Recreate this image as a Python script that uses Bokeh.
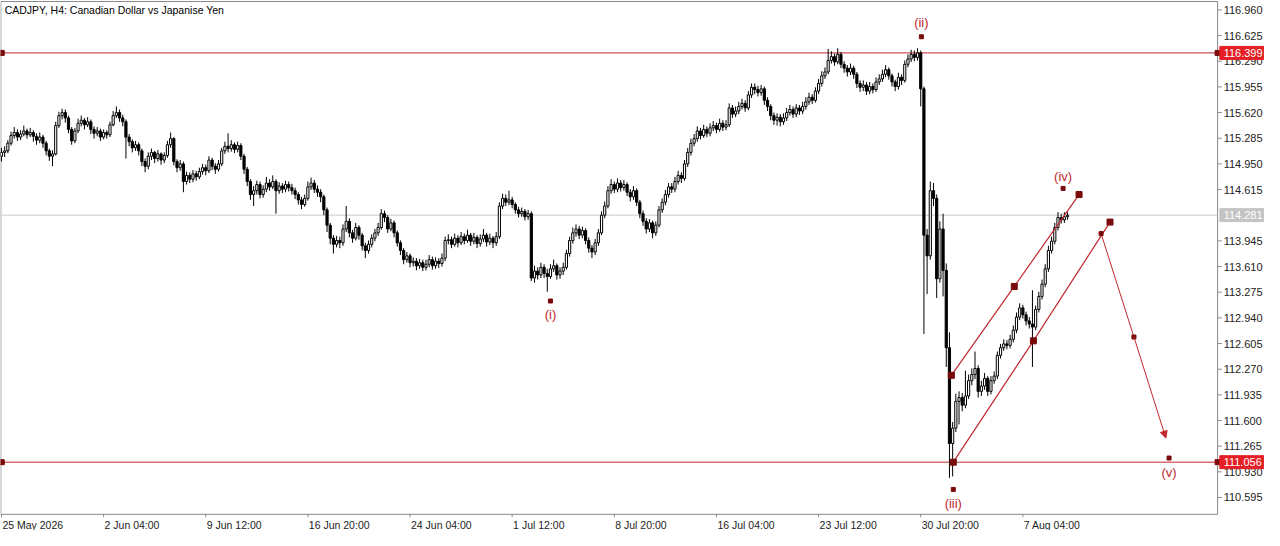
from bokeh.plotting import figure
from bokeh.models import Range1d, ColumnDataSource, Arrow, NormalHead
from bokeh.embed import file_html
from bokeh.resources import INLINE
from bokeh.core.properties import value

# ---------------- data ----------------
title_text = "CADJPY, H4:  Canadian Dollar vs Japanise Yen"
first_open = 115.05
closes = [
    115.10, 115.12, 115.22, 115.32, 115.36, 115.30, 115.34, 115.38, 115.33, 115.36,
    115.31, 115.26, 115.30, 115.22, 115.12, 115.05, 115.08, 115.45, 115.58, 115.62,
    115.55, 115.40, 115.25, 115.38, 115.48, 115.52, 115.46, 115.50, 115.40, 115.35,
    115.38, 115.30, 115.36, 115.33, 115.46, 115.58, 115.62, 115.55, 115.50, 115.30,
    115.24, 115.16, 115.20, 115.12, 114.98, 114.92, 115.05, 115.10, 115.02, 115.08,
    115.00, 115.06, 115.20, 115.28, 114.98, 114.90, 114.95, 114.72, 114.80, 114.75,
    114.82, 114.78, 114.85, 114.90, 114.86, 115.00, 114.92, 114.88, 114.95, 115.12,
    115.18, 115.15, 115.20, 115.14, 115.19, 115.05, 114.88, 114.72, 114.55, 114.60,
    114.68, 114.55, 114.62, 114.70, 114.65, 114.72, 114.60, 114.66, 114.62, 114.68,
    114.64, 114.60, 114.55, 114.48, 114.42, 114.50, 114.65, 114.70, 114.62, 114.58,
    114.52, 114.35, 114.15, 113.98, 113.90, 113.95, 113.92, 114.10, 114.20, 114.05,
    113.98, 114.12, 114.02, 113.88, 113.82, 113.90, 113.98, 114.05, 114.12, 114.30,
    114.25, 114.10, 114.18, 114.05, 113.92, 113.82, 113.70, 113.75, 113.66, 113.68,
    113.62, 113.66, 113.60, 113.64, 113.70, 113.62, 113.68, 113.65, 113.72, 113.95,
    113.96, 113.90, 113.98, 113.92, 114.00, 113.95, 114.02, 113.94, 113.99, 113.91,
    113.97, 114.02, 113.93, 113.98, 113.92, 114.00, 114.40, 114.50, 114.45, 114.48,
    114.42, 114.35, 114.30, 114.33, 114.26, 114.30, 113.46, 113.55, 113.50, 113.60,
    113.52, 113.48, 113.58, 113.62, 113.50, 113.55, 113.60, 113.78, 113.95, 114.05,
    114.10, 114.02, 114.08, 113.95, 113.85, 113.80, 113.92, 114.05, 114.28, 114.40,
    114.60, 114.68, 114.62, 114.70, 114.64, 114.68, 114.58, 114.52, 114.60, 114.45,
    114.30, 114.20, 114.10, 114.18, 114.05, 114.15, 114.35, 114.45, 114.55, 114.65,
    114.62, 114.72, 114.80, 114.76, 114.95, 115.10, 115.22, 115.28, 115.38, 115.32,
    115.40, 115.35, 115.42, 115.45, 115.40, 115.48, 115.43, 115.46, 115.68, 115.60,
    115.64, 115.70, 115.74, 115.68, 115.85, 115.95, 115.92, 115.88, 115.93, 115.78,
    115.70, 115.58, 115.52, 115.56, 115.50, 115.55, 115.62, 115.66, 115.60, 115.68,
    115.64, 115.70, 115.76, 115.82, 115.78, 115.90, 116.00, 116.10, 116.15, 116.30,
    116.35, 116.28, 116.38, 116.25, 116.20, 116.15, 116.20, 116.12, 116.00, 115.95,
    115.98, 115.90, 115.96, 115.92, 116.02, 116.06, 116.12, 116.18, 116.10, 116.02,
    115.96, 116.08, 116.04, 116.25, 116.32, 116.38, 116.34, 116.40, 115.93, 114.02,
    113.75, 114.60, 114.50, 113.45, 114.10, 113.56, 112.55, 111.30, 111.50, 111.85,
    111.90, 111.80, 111.92, 112.12, 112.20, 112.28, 111.98, 112.05, 112.15, 111.98,
    112.12, 112.18, 112.45, 112.55, 112.60, 112.58, 112.66, 112.78, 112.95, 113.07,
    112.98, 112.90, 112.86, 112.82, 113.05, 113.22, 113.38, 113.58, 113.82, 113.94,
    114.12, 114.25, 114.22, 114.26, 114.28,
]
highs = [
    115.16, 115.18, 115.26, 115.37, 115.43, 115.40, 115.39, 115.45, 115.41, 115.42,
    115.39, 115.35, 115.36, 115.33, 115.25, 115.15, 115.13, 115.50, 115.63, 115.67,
    115.66, 115.58, 115.43, 115.42, 115.54, 115.58, 115.55, 115.56, 115.53, 115.44,
    115.43, 115.41, 115.40, 115.39, 115.50, 115.64, 115.70, 115.66, 115.59, 115.53,
    115.34, 115.27, 115.25, 115.23, 115.15, 115.02, 115.10, 115.15, 115.12, 115.13,
    115.10, 115.10, 115.25, 115.36, 115.30, 115.01, 115.00, 114.98, 114.85, 114.84,
    114.87, 114.86, 114.90, 114.95, 114.94, 115.05, 115.03, 114.96, 115.00, 115.16,
    115.24, 115.35, 115.26, 115.23, 115.24, 115.22, 115.08, 114.91, 114.75, 114.66,
    114.73, 114.72, 114.67, 114.78, 114.75, 114.80, 114.75, 114.71, 114.70, 114.73,
    114.72, 114.69, 114.64, 114.58, 114.52, 114.55, 114.72, 114.77, 114.74, 114.67,
    114.62, 114.55, 114.38, 114.18, 114.02, 114.01, 114.00, 114.16, 114.40, 114.24,
    114.09, 114.18, 114.15, 114.05, 113.92, 113.95, 114.03, 114.10, 114.18, 114.36,
    114.34, 114.28, 114.23, 114.21, 114.08, 113.95, 113.85, 113.80, 113.78, 113.73,
    113.72, 113.71, 113.70, 113.70, 113.76, 113.74, 113.73, 113.72, 113.78, 114.00,
    114.03, 114.00, 114.04, 114.02, 114.06, 114.04, 114.09, 114.05, 114.05, 114.02,
    114.03, 114.10, 114.05, 114.04, 114.01, 114.06, 114.45, 114.56, 114.55, 114.60,
    114.52, 114.45, 114.39, 114.38, 114.36, 114.35, 114.33, 113.62, 113.60, 113.66,
    113.64, 113.58, 113.64, 113.70, 113.65, 113.60, 113.66, 113.83, 114.00, 114.12,
    114.16, 114.14, 114.13, 114.11, 113.99, 113.89, 113.97, 114.10, 114.33, 114.46,
    114.66, 114.75, 114.72, 114.76, 114.74, 114.74, 114.71, 114.62, 114.66, 114.63,
    114.48, 114.34, 114.24, 114.23, 114.21, 114.20, 114.40, 114.50, 114.61, 114.70,
    114.70, 114.78, 114.86, 114.84, 115.00, 115.16, 115.28, 115.34, 115.44, 115.42,
    115.46, 115.44, 115.48, 115.51, 115.49, 115.54, 115.52, 115.52, 115.74, 115.72,
    115.70, 115.76, 115.80, 115.78, 115.90, 116.00, 116.00, 115.97, 115.98, 115.96,
    115.82, 115.73, 115.62, 115.61, 115.60, 115.61, 115.68, 115.72, 115.70, 115.73,
    115.72, 115.76, 115.82, 115.88, 115.86, 115.95, 116.06, 116.16, 116.21, 116.45,
    116.42, 116.39, 116.46, 116.41, 116.29, 116.24, 116.26, 116.23, 116.15, 116.04,
    116.04, 116.02, 116.02, 116.00, 116.08, 116.12, 116.18, 116.24, 116.21, 116.13,
    116.05, 116.14, 116.12, 116.30, 116.38, 116.44, 116.43, 116.46, 116.43, 115.96,
    114.10, 114.72, 114.70, 114.55, 114.20, 114.30, 113.65, 112.75, 111.58, 111.95,
    111.98, 111.96, 112.25, 112.20, 112.28, 112.50, 112.32, 112.12, 112.22, 112.18,
    112.18, 112.24, 112.50, 112.60, 112.66, 112.65, 112.72, 112.84, 113.01, 113.13,
    113.11, 113.02, 112.95, 113.30, 113.10, 113.28, 113.44, 113.64, 113.88, 114.00,
    114.18, 114.32, 114.30, 114.32, 114.32,
]
lows = [
    114.98, 115.04, 115.09, 115.19, 115.28, 115.25, 115.26, 115.31, 115.28, 115.30,
    115.24, 115.20, 115.22, 115.16, 115.06, 114.99, 114.92, 115.06, 115.42, 115.53,
    115.49, 115.35, 115.20, 115.22, 115.35, 115.44, 115.40, 115.43, 115.34, 115.28,
    115.31, 115.25, 115.27, 115.28, 115.30, 115.44, 115.55, 115.50, 115.44, 115.02,
    115.18, 115.10, 115.12, 115.06, 114.92, 114.84, 114.88, 115.00, 114.96, 114.98,
    114.94, 114.96, 115.03, 115.16, 114.93, 114.84, 114.86, 114.58, 114.68, 114.70,
    114.71, 114.73, 114.75, 114.81, 114.80, 114.83, 114.87, 114.82, 114.85, 114.92,
    115.08, 115.10, 115.11, 115.09, 115.10, 115.00, 114.82, 114.66, 114.48, 114.40,
    114.55, 114.50, 114.51, 114.58, 114.60, 114.62, 114.30, 114.56, 114.57, 114.58,
    114.59, 114.55, 114.49, 114.42, 114.36, 114.39, 114.47, 114.61, 114.57, 114.52,
    114.45, 114.28, 114.06, 113.90, 113.78, 113.86, 113.85, 113.88, 114.06, 113.99,
    113.92, 113.95, 113.96, 113.82, 113.72, 113.78, 113.86, 113.94, 114.01, 114.09,
    114.19, 114.05, 114.07, 113.99, 113.87, 113.76, 113.64, 113.66, 113.60, 113.61,
    113.56, 113.58, 113.55, 113.56, 113.60, 113.57, 113.58, 113.59, 113.61, 113.68,
    113.90, 113.85, 113.87, 113.86, 113.89, 113.90, 113.92, 113.88, 113.90, 113.85,
    113.87, 113.93, 113.87, 113.89, 113.85, 113.88, 113.97, 114.36, 114.40, 114.41,
    114.37, 114.30, 114.25, 114.26, 114.21, 114.22, 113.42, 113.40, 113.44, 113.46,
    113.46, 113.28, 113.45, 113.54, 113.44, 113.45, 113.50, 113.57, 113.74, 113.91,
    114.00, 113.97, 113.98, 113.90, 113.79, 113.72, 113.76, 113.88, 114.02, 114.24,
    114.37, 114.56, 114.57, 114.58, 114.59, 114.60, 114.53, 114.46, 114.48, 114.40,
    114.24, 114.14, 114.04, 114.06, 113.98, 114.01, 114.12, 114.31, 114.41, 114.51,
    114.57, 114.58, 114.68, 114.70, 114.73, 114.91, 115.06, 115.18, 115.24, 115.27,
    115.29, 115.30, 115.31, 115.38, 115.35, 115.37, 115.38, 115.39, 115.43, 115.55,
    115.56, 115.60, 115.66, 115.63, 115.65, 115.81, 115.86, 115.83, 115.84, 115.72,
    115.64, 115.52, 115.46, 115.45, 115.44, 115.46, 115.51, 115.58, 115.55, 115.56,
    115.59, 115.60, 115.66, 115.72, 115.73, 115.75, 115.86, 115.96, 116.06, 116.12,
    116.26, 116.23, 116.25, 116.20, 116.14, 116.09, 116.11, 116.06, 115.94, 115.89,
    115.90, 115.85, 115.86, 115.87, 115.89, 115.98, 116.02, 116.08, 116.05, 115.96,
    115.90, 115.92, 115.98, 116.01, 116.21, 116.28, 116.29, 116.30, 115.70, 112.73,
    113.25, 113.70, 114.40, 113.20, 113.40, 113.22, 112.30, 110.85, 110.87, 111.45,
    111.55, 111.72, 111.76, 111.88, 112.06, 112.14, 111.90, 111.92, 112.00, 111.92,
    111.94, 112.08, 112.14, 112.41, 112.51, 112.53, 112.54, 112.62, 112.74, 112.91,
    112.93, 112.84, 112.80, 112.30, 112.78, 113.01, 113.18, 113.34, 113.54, 113.78,
    113.90, 114.08, 114.17, 114.18, 114.22,
]
date_ticks = [0, 32, 64, 96, 128, 160, 192, 224, 256, 288, 320]
date_labels = ["25 May 2026", "2 Jun 04:00", "9 Jun 12:00", "16 Jun 20:00", "24 Jun 04:00",
               "1 Jul 12:00", "8 Jul 20:00", "16 Jul 04:00", "23 Jul 12:00", "30 Jul 20:00",
               "7 Aug 04:00"]
price_ticks = [116.960, 116.625, 116.290, 115.955, 115.620, 115.285, 114.950, 114.615,
               113.945, 113.610, 113.275, 112.940, 112.605, 112.270, 111.935, 111.600,
               111.265, 110.930, 110.595]
resistance = 116.399
support = 111.056
bid = 114.281

# channel and wave annotations (bar index, price)
upper_x = [297.6, 317.3, 337.6]
upper_y = [112.19, 113.35, 114.55]
lower_x = [298.2, 323.3, 347.3]
lower_y = [111.056, 112.64, 114.19]
proj_x = [344.5, 354.8, 364.8]
proj_y = [114.04, 112.69, 111.37]
wave_names = ["(i)", "(ii)", "(iii)", "(iv)", "(v)"]
wave_x = [172.0, 288.2, 298.2, 332.6, 365.8]
wave_mark_y = [113.16, 116.61, 110.70, 114.63, 111.11]
wave_text_y = [112.98, 116.80, 110.52, 114.79, 110.92]

# ---------------- figure ----------------
RED = "#c0282d"
DARK = "#7a0a0a"
GRAY = "#8a8a8a"
FONT = "Liberation Sans"
X0, XAX = -0.2, 381.0          # left frame edge, price-axis line (bar units)
YB, YT = 110.375, 117.07       # bottom / top frame edges (price)
PX = 76.6                      # pixels per price unit
Y_TOP = YT + 1.0 / PX
Y_BOT = Y_TOP - 530.0 / PX

opens = [first_open] + closes[:-1]
idx = list(range(len(closes)))
tops = [max(o, c) for o, c in zip(opens, closes)]
bots = [min(o, c) for o, c in zip(opens, closes)]
fills = ["white" if c >= o else "black" for o, c in zip(opens, closes)]
src = ColumnDataSource(dict(x=idx, top=tops, bottom=bots, high=highs, low=lows, fill=fills))

p = figure(width=1264, height=530, output_backend="svg", toolbar_location=None,
           x_range=Range1d(-0.3, 395.7), y_range=Range1d(Y_BOT, Y_TOP),
           min_border_left=0, min_border_top=0, min_border_right=0, min_border_bottom=0)
p.xaxis.visible = False
p.yaxis.visible = False
p.grid.visible = False
p.outline_line_color = None
p.background_fill_color = "white"
p.border_fill_color = "white"

# chart frame
p.segment(x0=[X0, X0, X0, XAX], y0=[YB, YT, YB, YB], x1=[XAX, XAX, X0, XAX],
          y1=[YB, YT, YT, YT], line_color=GRAY, line_width=1)

# time axis (ticks below the frame, labels starting at the tick)
tick_len = 3.0 / PX
p.segment(x0=date_ticks, y0=[YB] * len(date_ticks), x1=date_ticks,
          y1=[YB - tick_len] * len(date_ticks), line_color=GRAY, line_width=1)
p.text(x=[t + 0.3 for t in date_ticks], y=[YB - 11.0 / PX] * len(date_ticks), text=date_labels,
       text_align="left", text_baseline="middle", text_color="#222222",
       text_font=value(FONT), text_font_size="10.5px")

# price axis at the right edge of the chart frame
p.segment(x0=[XAX] * len(price_ticks), y0=price_ticks, x1=[XAX + 1.3] * len(price_ticks),
          y1=price_ticks, line_color=GRAY, line_width=1)
p.text(x=[XAX + 1.9] * len(price_ticks), y=price_ticks,
       text=[f"{t:.3f}" for t in price_ticks], text_align="left", text_baseline="middle",
       text_color="#222222", text_font=value(FONT), text_font_size="11px")

# horizontal levels
p.segment(x0=[X0], y0=[bid], x1=[XAX], y1=[bid], line_color="#c8c8c8", line_width=1)
for lvl in (resistance, support):
    p.segment(x0=[0.1], y0=[lvl], x1=[XAX], y1=[lvl], line_color=RED, line_width=1)
    p.scatter(x=[0.1, XAX], y=[lvl, lvl], marker="square", size=5, color=DARK)

# candles
p.segment(x0="x", y0="low", x1="x", y1="high", source=src, line_color="black", line_width=1)
p.vbar(x="x", width=0.68, top="top", bottom="bottom", source=src,
       fill_color="fill", line_color="black", line_width=1)

# channel
p.line(upper_x, upper_y, line_color=RED, line_width=1.2)
p.line(lower_x, lower_y, line_color=RED, line_width=1.2)
p.scatter(x=upper_x + lower_x, y=upper_y + lower_y, marker="square", size=6,
          fill_color=DARK, line_color=DARK)
# projection
p.line(proj_x[:2], proj_y[:2], line_color=RED, line_width=1)
p.add_layout(Arrow(x_start=proj_x[1], y_start=proj_y[1], x_end=proj_x[2], y_end=proj_y[2],
                   line_color=RED, line_width=1,
                   end=NormalHead(size=7, fill_color=RED, line_color=RED)))
p.scatter(x=proj_x[:2], y=proj_y[:2], marker="square", size=4, color=DARK)

# wave labels
p.scatter(x=wave_x, y=wave_mark_y, marker="square", size=4, color=DARK)
p.text(x=wave_x, y=wave_text_y, text=wave_names, text_align="center",
       text_baseline="middle", text_color=RED, text_font=value(FONT),
       text_font_size="13px")

# title
p.text(x=[1.0], y=[116.965], text=[title_text], text_align="left", text_baseline="middle",
       text_color="black", text_font=value(FONT), text_font_size="10.5px")

# price tags on the axis
tag_levels = [resistance, support, bid]
tag_colors = ["#e41f26", "#e41f26", "#c4c4c4"]
p.rect(x=[XAX + 7.6] * 3, y=tag_levels, width=44, height=13, width_units="screen",
       height_units="screen", fill_color=tag_colors, line_color=tag_colors)
p.text(x=[XAX + 1.9] * 3, y=tag_levels, text=[f"{t:.3f}" for t in tag_levels],
       text_align="left", text_baseline="middle", text_color="white",
       text_font=value(FONT), text_font_size="11px")

open("out.html", "w").write(file_html(p, INLINE))
